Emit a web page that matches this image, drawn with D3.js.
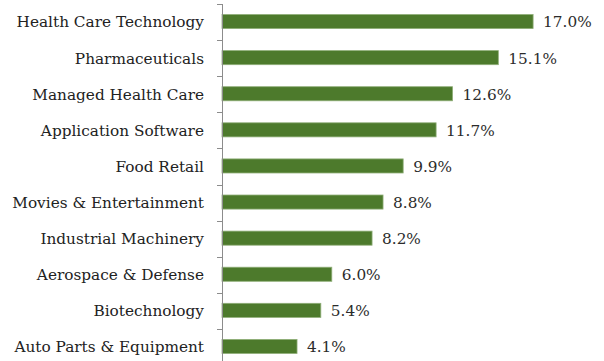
<!DOCTYPE html>
<html>
<head>
<meta charset="utf-8">
<script src="https://cdn.jsdelivr.net/npm/d3@7"></script>
<style>
  body { margin: 0; background: #fff; }
  svg { display: block; }
  text { font-family: "DejaVu Serif", "Liberation Serif", "Times New Roman", serif; }
</style>
</head>
<body>
<div id="chart"></div>
<script>
const categories = [
  'Health Care Technology', 'Pharmaceuticals', 'Managed Health Care',
  'Application Software', 'Food Retail', 'Movies & Entertainment',
  'Industrial Machinery', 'Aerospace & Defense', 'Biotechnology',
  'Auto Parts & Equipment'
];
const values = [17.0, 15.1, 12.6, 11.7, 9.9, 8.8, 8.2, 6.0, 5.4, 4.1];

const width = 604, height = 361;
const axisX = 222;

const svg = d3.select('#chart').append('svg')
  .attr('width', width).attr('height', height);

const x = d3.scaleLinear().domain([0, 20]).range([axisX, axisX + 366]);
const y = d3.scaleBand().domain(categories).range([4, 365]).paddingInner(0.61).paddingOuter(0.305);

// bars
svg.selectAll('rect.bar').data(values).enter()
  .append('rect')
  .attr('class', 'bar')
  .attr('x', x(0))
  .attr('y', (d, i) => y(categories[i]) - 0.5)
  .attr('width', d => x(d) - x(0))
  .attr('height', y.bandwidth())
  .attr('fill', '#4d7a2c')
  .attr('stroke', '#8fae78')
  .attr('stroke-width', 0.8);

// value labels
svg.selectAll('text.val').data(values).enter()
  .append('text')
  .attr('class', 'val')
  .attr('x', d => x(d) + 10)
  .attr('y', (d, i) => y(categories[i]) + y.bandwidth() / 2)
  .attr('dy', '0.35em')
  .attr('font-size', '15.3px')
  .attr('fill', '#2b2b2b')
  .text(d => d.toFixed(1) + '%');

// category axis
const step = y.step();
const ax = svg.append('g').attr('stroke', '#8c8c8c').attr('stroke-width', 1);
ax.append('line')
  .attr('x1', axisX + 0.5).attr('x2', axisX + 0.5)
  .attr('y1', y.range()[0]).attr('y2', y.range()[1]);
ax.selectAll('line.tick').data(d3.range(categories.length + 1)).enter()
  .append('line')
  .attr('class', 'tick')
  .attr('x1', axisX - 5).attr('x2', axisX + 0.5)
  .attr('y1', i => Math.round(y.range()[0] + i * step) + 0.5)
  .attr('y2', i => Math.round(y.range()[0] + i * step) + 0.5);

svg.selectAll('text.cat').data(categories).enter()
  .append('text')
  .attr('class', 'cat')
  .attr('x', axisX - 18)
  .attr('y', d => y(d) + y.bandwidth() / 2)
  .attr('dy', '0.35em')
  .attr('text-anchor', 'end')
  .attr('font-size', '15.3px')
  .attr('fill', '#222')
  .text(d => d);
</script>
</body>
</html>
